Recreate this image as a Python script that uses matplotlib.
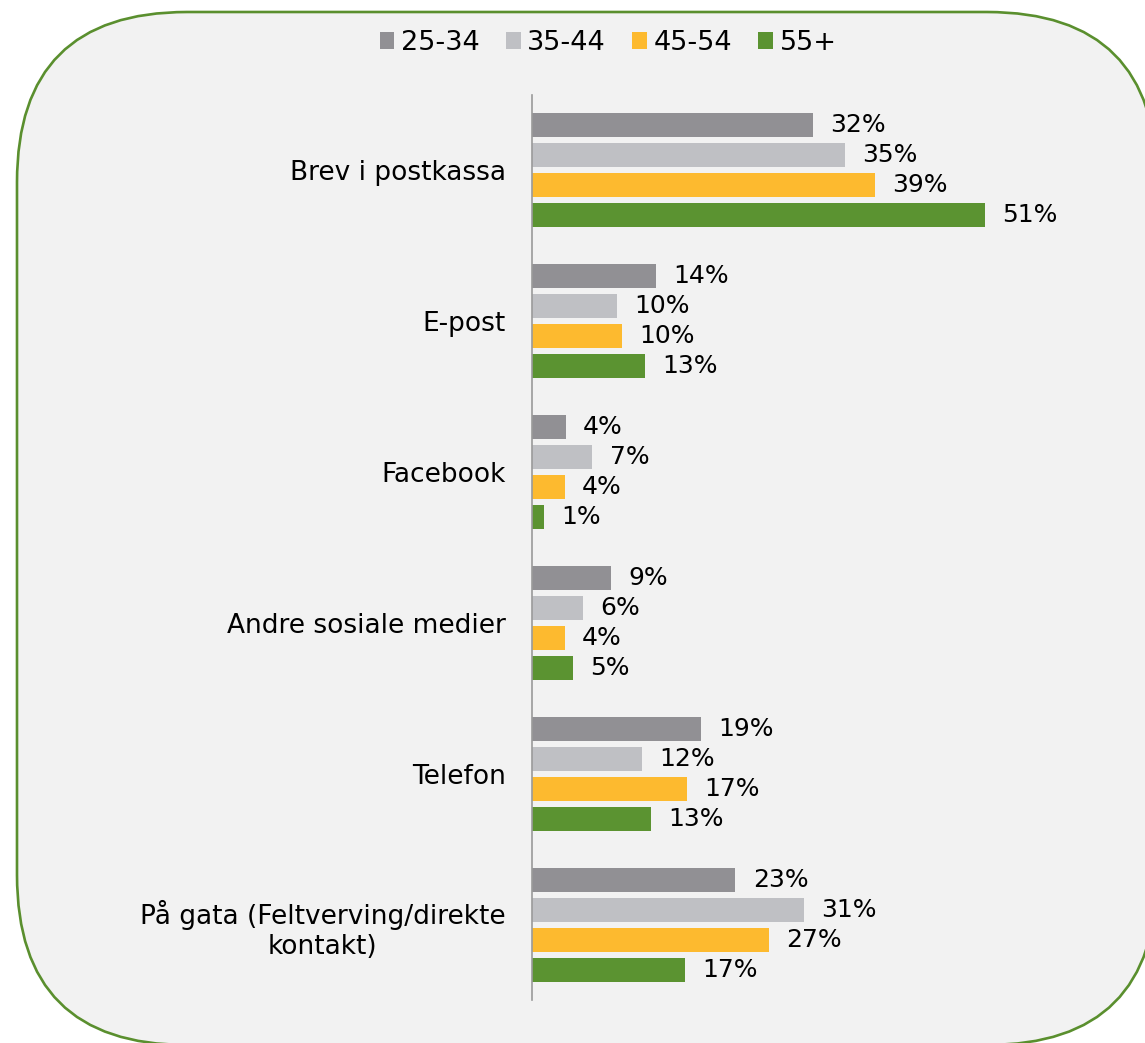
import matplotlib.pyplot as plt
from matplotlib.patches import FancyBboxPatch
import numpy as np

# data
categories = ['Brev i postkassa', 'E-post', 'Facebook', 'Andre sosiale medier',
              'Telefon', 'På gata (Feltverving/direkte\nkontakt)']
series = ['25-34', '35-44', '45-54', '55+']
colors = ['#919094', '#bfc0c4', '#fdba2f', '#5b9331']
v_25_34 = [31.6, 14.0, 3.8, 8.9, 19.0, 22.9]
v_35_44 = [35.2, 9.6, 6.8, 5.7, 12.4, 30.6]
v_45_54 = [38.6, 10.1, 3.7, 3.7, 17.4, 26.7]
v_55 = [51.0, 12.7, 1.35, 4.6, 13.4, 17.2]
values = [v_25_34, v_35_44, v_45_54, v_55]

fig = plt.figure(figsize=(11.45, 10.43), dpi=100)
fig.patch.set_facecolor('white')

# rounded background box
box = FancyBboxPatch((0.17, -0.02), 11.40, 10.33,
                     boxstyle='round,pad=0,rounding_size=1.7',
                     transform=fig.dpi_scale_trans, zorder=-10,
                     facecolor='#f2f2f2', edgecolor='#5a8f2e', linewidth=1.9)
fig.patches.append(box)

ax = fig.add_axes([532 / 1145, 1 - 1000 / 1043, 533 / 1145, 905 / 1043])
ax.patch.set_alpha(0)

y = np.arange(len(categories))
offsets = [-0.298, -0.0993, 0.0993, 0.298]
h = 0.159
for vals, off, c, name in zip(values, offsets, colors, series):
    bars = ax.barh(y + off, vals, height=h, color=c, label=name)
    ax.bar_label(bars, labels=[f'{round(v)}%' for v in vals], padding=12.5, fontsize=18)

ax.set_xlim(0, 60)
ax.set_ylim(5.5, -0.5)
ax.set_yticks(y)
ax.set_yticklabels(categories, fontsize=19)
for lab in ax.get_yticklabels():
    lab.set_multialignment('center')
ax.tick_params(axis='y', length=0, pad=19)
ax.set_xticks([])
for s in ['top', 'right', 'bottom']:
    ax.spines[s].set_visible(False)
ax.spines['left'].set_color('#9a9a9a')
ax.spines['left'].set_linewidth(1.2)

fig.legend(loc='center', bbox_to_anchor=(608 / 1145, 1 - 43 / 1043), ncol=4,
           frameon=False, fontsize=19.5, handlelength=0.55, handleheight=0.55,
           handletextpad=0.25, columnspacing=0.95)

fig.savefig('out.png', dpi=100, facecolor='white')
